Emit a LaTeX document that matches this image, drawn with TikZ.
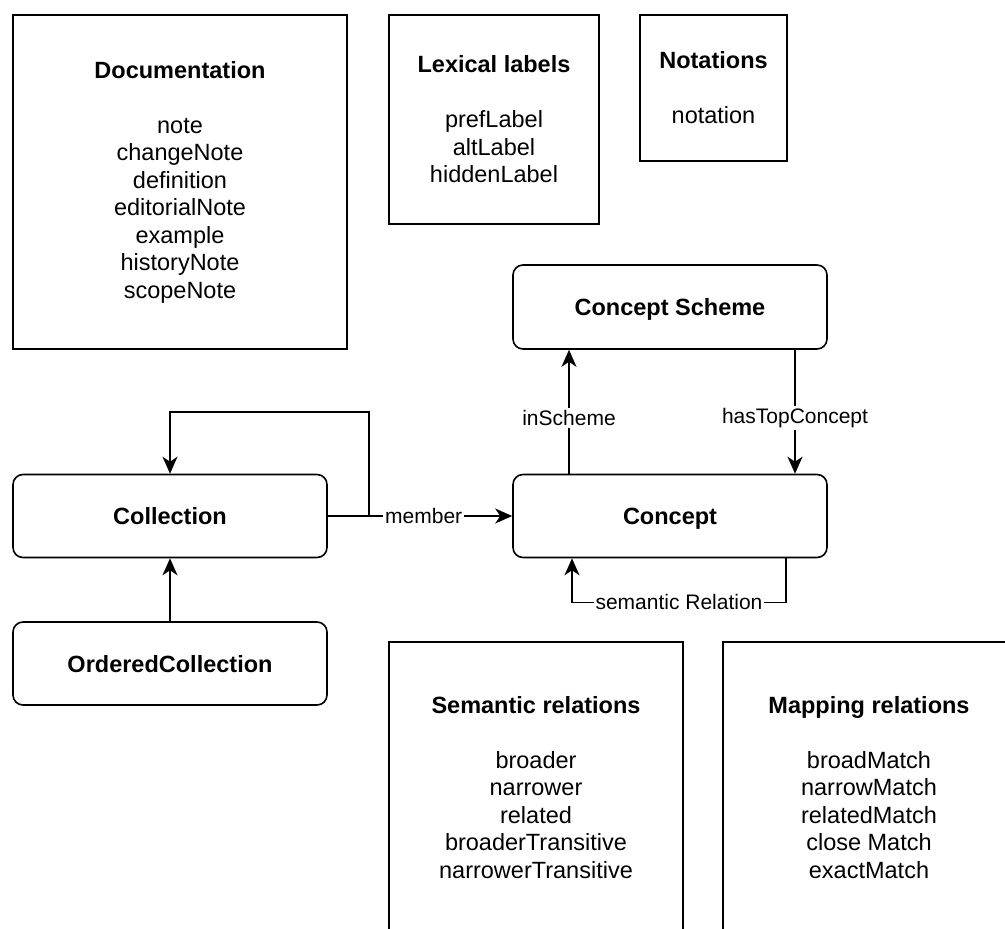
\documentclass[tikz,border=0pt]{standalone}
\usepackage{fontspec}
\setmainfont{Liberation Sans}
\usetikzlibrary{positioning,
	calc,
	arrows.meta}
\tikzstyle{grp}=[draw, line width=1.6pt, align=center, inner sep=0,
		font=\fontsize{23.5}{27.5}\selectfont]
\tikzstyle{txt}=[align=center, inner sep=0, font=\fontsize{23.5}{27.5}\selectfont]
\tikzstyle{cls}=[draw, rounded corners=10pt, line width=1.6pt, minimum width=314pt,
		minimum height=83pt, text height=17pt, text depth=0pt,
		font=\bfseries\fontsize{23.5}{27.5}\selectfont]
\tikzstyle{rel}=[fill=white, inner sep=2pt, font=\fontsize{21}{25}\selectfont]
\tikzstyle{arr}=[line width=1.6pt, -{Stealth[length=17pt, width=15pt, inset=5pt]}]

\begin{document}
\begin{tikzpicture}[x=1pt, y=-1pt]
        \useasboundingbox (0,0) rectangle (1005,929);
        % property groups
        \node[grp, minimum width=334pt, minimum height=334pt] (doc) at (180,182) {\textbf{Documentation}\\[27.5pt]note\\changeNote\\definition\\editorialNote\\example\\historyNote\\scopeNote};
        \node[grp, minimum width=210pt, minimum height=209pt] (lex) at (494,119.5) {\textbf{Lexical labels}\\[27.5pt]prefLabel\\altLabel\\hiddenLabel};
        \node[grp, minimum width=147pt, minimum height=146pt] (nota) at (713.5,88) {\textbf{Notations}\\[27.5pt]notation};
        \draw[line width=1.6pt] (389,929) -- (389,642) -- (683,642) -- (683,929);
        \node[txt] (semrel) at (536,787.5) {\textbf{Semantic relations}\\[27.5pt]broader\\narrower\\related\\broaderTransitive\\narrowerTransitive};
        \draw[line width=1.6pt] (723,929) -- (723,642) -- (1005,642);
        \node[txt] (maprel) at (869,787.5) {\textbf{Mapping relations}\\[27.5pt]broadMatch\\narrowMatch\\relatedMatch\\close Match\\exactMatch};
        % classes
        \node[cls, minimum height=84pt] (scheme) at (670,307) {Concept Scheme};
        \node[cls] (concept) at (670,516) {Concept};
        \node[cls] (coll) at (170,516) {Collection};
        \node[cls] (ordcoll) at (170,663.5) {OrderedCollection};
        % relations
        \draw[arr] (ordcoll) -- (coll);
        \draw[arr] (coll) -- (concept) node[rel, pos=0.52] {member};
        \coordinate (mb) at ([xshift=41pt]coll.east);
        \draw[arr] (mb) |- ([yshift=62pt]coll.north) -- (coll.north);
        \draw[arr] ([xshift=-101pt]concept.north) -- ([xshift=-101pt]concept.north |- scheme.south) node[rel, pos=0.45] {inScheme};
        \draw[arr] ([xshift=125pt]scheme.south) -- ([xshift=125pt]scheme.south |- concept.north) node[rel, pos=0.55] {hasTopConcept};
        \draw[arr] ([xshift=116pt]concept.south) |- ([xshift=-98pt, yshift=-44pt]concept.south) node[rel, pos=0.75] {semantic Relation} -- ([xshift=-98pt]concept.south);
    \end{tikzpicture}
\end{document}
